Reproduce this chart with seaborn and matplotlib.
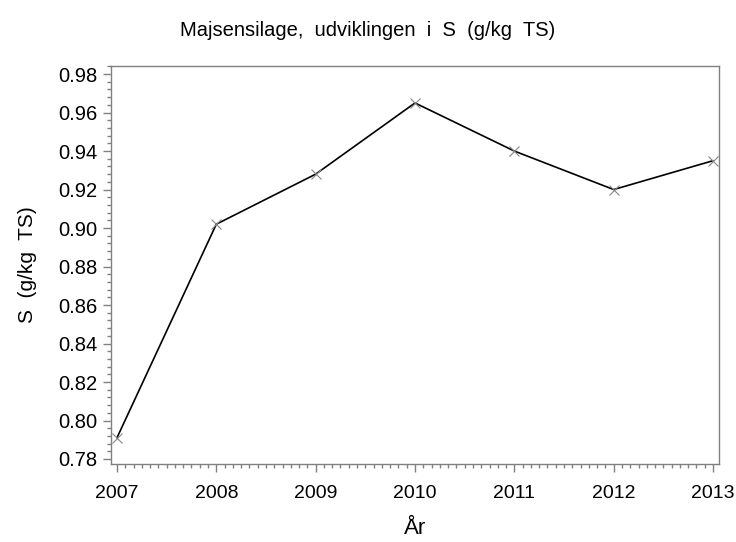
import pandas as pd
import seaborn as sns
import matplotlib.pyplot as plt
from matplotlib.ticker import MultipleLocator

# Data
aar = [2007, 2008, 2009, 2010, 2011, 2012, 2013]
svovl = [0.791, 0.902, 0.928, 0.965, 0.940, 0.920, 0.935]

df = pd.DataFrame({"År": aar, "S": svovl})

sns.set_style("white")
plt.rcParams["font.family"] = ["Liberation Sans", "DejaVu Sans"]
plt.rcParams["text.color"] = "black"
plt.rcParams["axes.labelcolor"] = "black"
plt.rcParams["xtick.labelcolor"] = "black"
plt.rcParams["ytick.labelcolor"] = "black"

fig = plt.figure(figsize=(7.36, 5.42), dpi=100)
ax = fig.add_axes([111 / 736, 1 - 464 / 542, 608 / 736, 398 / 542])

sns.lineplot(data=df, x="År", y="S", ax=ax, color="black", linewidth=1.2,
             marker="x", markersize=7, markeredgecolor="#888888",
             markeredgewidth=0.8)

ax.set_xlim(2006.94, 2013.06)
ax.set_ylim(0.7774, 0.9842)
ax.set_xticks(aar)
ax.set_xticklabels([str(a) for a in aar])
ax.xaxis.set_minor_locator(MultipleLocator(1 / 12))
ax.yaxis.set_major_locator(MultipleLocator(0.02))
ax.yaxis.set_minor_locator(MultipleLocator(0.004))
ax.yaxis.set_major_formatter(plt.FormatStrFormatter("%.2f"))

for s in ax.spines.values():
    s.set_color("#808080")
    s.set_linewidth(1)

ax.tick_params(axis="both", which="major", direction="out", length=6,
               width=1, color="#808080")
ax.tick_params(axis="both", which="minor", direction="out", length=3,
               width=1, color="#808080")
ax.tick_params(axis="x", which="both", bottom=True, labelsize=14, pad=9)
ax.tick_params(axis="y", which="both", left=True, labelsize=14.5, pad=4)

ax.set_xlabel("År", fontsize=16, labelpad=12)
ax.set_ylabel("S  (g/kg  TS)", fontsize=15, labelpad=15)
fig.suptitle("Majsensilage,  udviklingen  i  S  (g/kg  TS)", fontsize=14.5,
             x=0.5, y=0.962)

plt.savefig("out.png", dpi=100)
plt.close()
